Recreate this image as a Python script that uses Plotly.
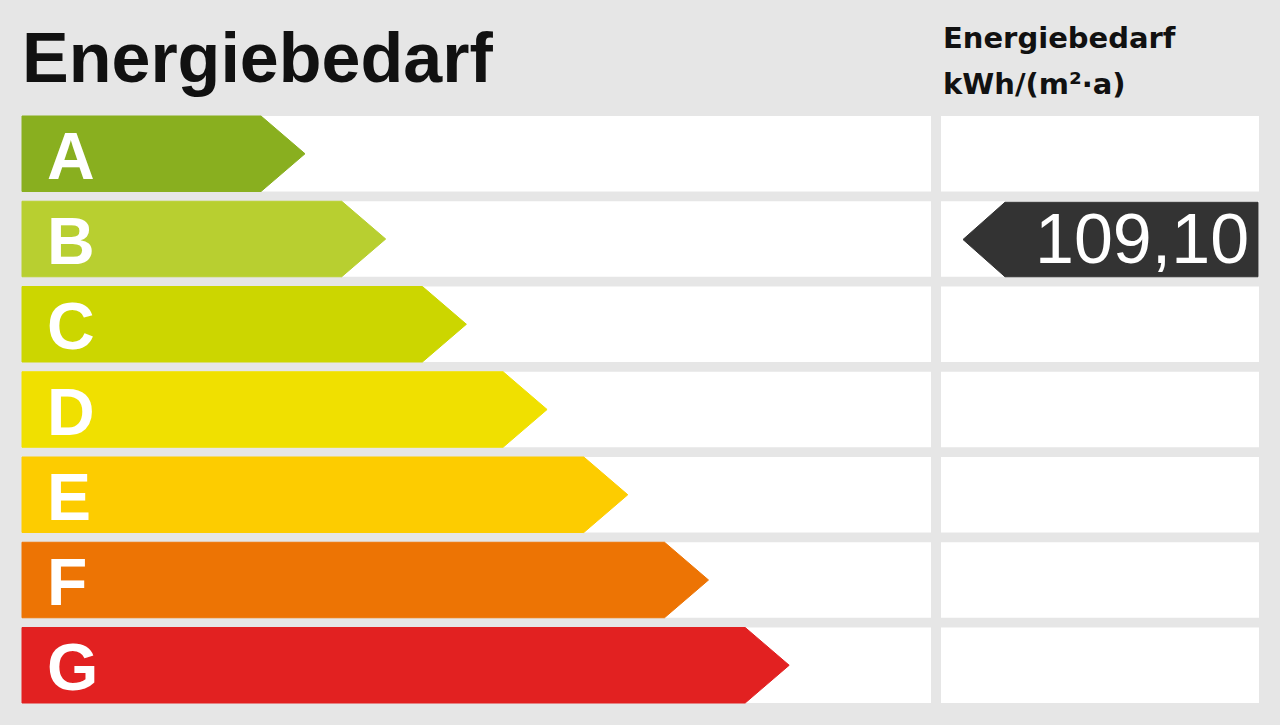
import plotly.graph_objects as go

# ------------------------------------------------------------
# data
# ------------------------------------------------------------
classes = ["A", "B", "C", "D", "E", "F", "G"]
class_colors = ["#89af1f", "#b8cf30", "#ccd600", "#f0e000", "#fdcc00", "#ed7404", "#e22121"]
value = 109.10
value_class = "B"
title = "Energiebedarf"
unit_lines = ["Energiebedarf", "kWh/(m²·a)"]

# ------------------------------------------------------------
# layout constants (pixel units, axes map 1:1 onto the canvas)
# ------------------------------------------------------------
W, H = 1280, 725
BG = "#e6e6e6"
ROW_TOP = 116
ROW_PITCH = 85.25
ROW_H = 75.5
LEFT_X0, LEFT_X1 = 22, 931
RIGHT_X0, RIGHT_X1 = 941, 1259
BODY_END_0 = 261
BODY_STEP = 80.7
TIP = 44
MARK_TIP_X = 963
MARK_TIP = 42
MARK_X1 = 1258

fig = go.Figure()
shapes = []
annotations = []

for i, (cls, col) in enumerate(zip(classes, class_colors)):
    y0 = ROW_TOP + i * ROW_PITCH
    y1 = y0 + ROW_H
    yc = (y0 + y1) / 2
    # white background cells
    shapes.append(dict(type="rect", xref="x", yref="y", x0=LEFT_X0, x1=LEFT_X1, y0=y0, y1=y1,
                       fillcolor="white", line_width=0, layer="below"))
    shapes.append(dict(type="rect", xref="x", yref="y", x0=RIGHT_X0, x1=RIGHT_X1, y0=y0, y1=y1,
                       fillcolor="white", line_width=0, layer="below"))
    # class arrow
    body_end = BODY_END_0 + i * BODY_STEP
    fig.add_trace(go.Scatter(
        x=[LEFT_X0, body_end, body_end + TIP, body_end, LEFT_X0, LEFT_X0],
        y=[y0, y0, yc, y1, y1, y0],
        fill="toself", fillcolor=col, mode="lines",
        line=dict(color=col, width=1), hoverinfo="skip", showlegend=False))
    annotations.append(dict(x=45, y=yc + 2, xref="x", yref="y", text=f"<b>{cls}</b>",
                            showarrow=False, xanchor="left", yanchor="middle",
                            font=dict(family="Liberation Sans, Arial", size=66, color="white")))

# value marker in the row of its class
k = classes.index(value_class)
my0 = ROW_TOP + k * ROW_PITCH + 1
my1 = my0 + ROW_H - 1
myc = (my0 + my1) / 2
fig.add_trace(go.Scatter(
    x=[MARK_TIP_X, MARK_TIP_X + MARK_TIP, MARK_X1, MARK_X1, MARK_TIP_X + MARK_TIP, MARK_TIP_X],
    y=[myc, my0, my0, my1, my1, myc],
    fill="toself", fillcolor="#333333", mode="lines",
    line=dict(color="#333333", width=1), hoverinfo="skip", showlegend=False))
annotations.append(dict(x=1251, y=myc - 1, xref="x", yref="y",
                        text=f"{value:.2f}".replace(".", ","),
                        showarrow=False, xanchor="right", yanchor="middle",
                        font=dict(family="Liberation Sans, Arial", size=70, color="white")))

# headers
annotations.append(dict(x=20, y=58, xref="x", yref="y", text=f"<b>{title}</b>",
                        showarrow=False, xanchor="left", yanchor="middle",
                        font=dict(family="Liberation Sans, Arial", size=70, color="#111111")))
for j, line in enumerate(unit_lines):
    annotations.append(dict(x=941, y=38 + j * 46, xref="x", yref="y", text=f"<b>{line}</b>",
                            showarrow=False, xanchor="left", yanchor="middle",
                            font=dict(family="DejaVu Sans", size=29, color="#111111")))

fig.update_layout(
    width=W, height=H,
    margin=dict(l=0, r=0, t=0, b=0),
    paper_bgcolor=BG, plot_bgcolor=BG,
    shapes=shapes, annotations=annotations,
    xaxis=dict(range=[0, W], visible=False, fixedrange=True),
    yaxis=dict(range=[H, 0], visible=False, fixedrange=True),
    showlegend=False,
)

fig.write_html("out.html", config={"displayModeBar": False},
               post_script="document.body.style.margin='0';document.body.style.overflow='hidden';")
